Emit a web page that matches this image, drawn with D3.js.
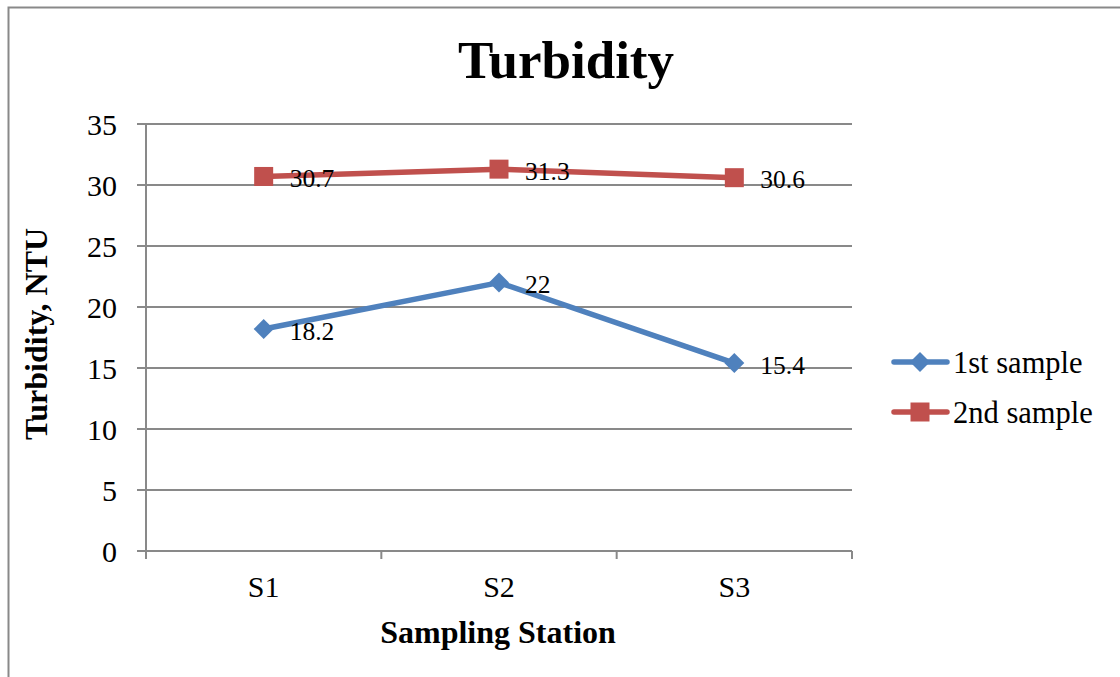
<!DOCTYPE html>
<html>
<head>
<meta charset="utf-8">
<script src="https://cdn.jsdelivr.net/npm/d3@7"></script>
<style>
  html, body { margin: 0; padding: 0; background: #fff; }
  svg { display: block; }
</style>
</head>
<body>
<svg id="chart" width="1120" height="677" font-family="'Liberation Serif', 'Times New Roman', Times, serif"></svg>
<script>
// Turbidity readings (NTU) at each sampling station
const stations = ["S1", "S2", "S3"];
const firstSample = [18.2, 22, 15.4];
const secondSample = [30.7, 31.3, 30.6];
const seriesNames = ["1st sample", "2nd sample"];
const yTicks = [0, 5, 10, 15, 20, 25, 30, 35];

const svg = d3.select("#chart");
const W = 1120, H = 677;
const plot = { left: 146, right: 852, top: 124, bottom: 551 };
const gridColor = "#898989";
const blue = "#4F81BD", red = "#C0504D";
const serif = "'Liberation Serif', 'Times New Roman', Times, serif";

// outer frame (left and top edges visible)
svg.append("path")
  .attr("d", `M8.5,${H} L8.5,7.5 L${W},7.5`)
  .attr("fill", "none").attr("stroke", gridColor).attr("stroke-width", 2);

const x = d3.scaleBand().domain(stations).range([plot.left, plot.right]);
const y = d3.scaleLinear().domain([0, 35]).range([plot.bottom, plot.top]);

// horizontal gridlines + y ticks
const yAxis = svg.append("g");
yAxis.selectAll("line.grid").data(yTicks).join("line")
  .attr("x1", plot.left - 9).attr("x2", plot.right)
  .attr("y1", d => y(d)).attr("y2", d => y(d))
  .attr("stroke", gridColor).attr("stroke-width", 2);
yAxis.selectAll("text").data(yTicks).join("text")
  .attr("x", 117).attr("y", d => y(d))
  .attr("dy", "0.36em")
  .attr("text-anchor", "end")
  .attr("font-family", serif)
  .attr("font-size", 30)
  .text(d => d);

// vertical axis line
svg.append("line")
  .attr("x1", plot.left).attr("x2", plot.left)
  .attr("y1", plot.top).attr("y2", plot.bottom + 8)
  .attr("stroke", gridColor).attr("stroke-width", 2);

// x tick marks at category boundaries
const boundaries = stations.map(s => x(s)).concat([x(stations[stations.length - 1]) + x.bandwidth()]);
svg.selectAll("line.xtick").data(boundaries.slice(1)).join("line")
  .attr("x1", d => d).attr("x2", d => d)
  .attr("y1", plot.bottom).attr("y2", plot.bottom + 8)
  .attr("stroke", gridColor).attr("stroke-width", 2);

// category labels
svg.selectAll("text.xlab").data(stations).join("text")
  .attr("x", d => x(d) + x.bandwidth() / 2)
  .attr("y", 597)
  .attr("text-anchor", "middle")
  .attr("font-family", serif)
  .attr("font-size", 30)
  .text(d => d);

// titles
svg.append("text")
  .attr("x", 566).attr("y", 78)
  .attr("text-anchor", "middle")
  .attr("font-family", serif)
  .attr("font-size", 53).attr("font-weight", "bold")
  .text("Turbidity");

svg.append("text")
  .attr("x", 498).attr("y", 643)
  .attr("text-anchor", "middle")
  .attr("font-family", serif)
  .attr("font-size", 32).attr("font-weight", "bold")
  .text("Sampling Station");

svg.append("text")
  .attr("transform", "translate(47,334) rotate(-90)")
  .attr("text-anchor", "middle")
  .attr("font-family", serif)
  .attr("font-size", 32).attr("font-weight", "bold")
  .text("Turbidity, NTU");

const cx = d => x(d) + x.bandwidth() / 2;
const line = d3.line().x((d, i) => cx(stations[i])).y(d => y(d));

const diamond = s => `M0,${-s} L${s},0 L0,${s} L${-s},0 Z`;
const square = s => `M${-s},${-s} H${s} V${s} H${-s} Z`;

const series = [
  { name: seriesNames[0], values: firstSample, color: blue, marker: diamond(10) },
  { name: seriesNames[1], values: secondSample, color: red, marker: square(9.5) }
];

series.forEach(s => {
  svg.append("path")
    .attr("d", line(s.values))
    .attr("fill", "none").attr("stroke", s.color)
    .attr("stroke-width", 5.5).attr("stroke-linejoin", "round");
  svg.selectAll(null).data(s.values).join("path")
    .attr("transform", (d, i) => `translate(${cx(stations[i])},${y(d)})`)
    .attr("d", s.marker).attr("fill", s.color);
  svg.selectAll(null).data(s.values).join("text")
    .attr("x", (d, i) => cx(stations[i]) + 26)
    .attr("y", d => y(d) + 1.5)
    .attr("dy", "0.36em")
    .attr("font-family", serif)
    .attr("font-size", 25.5)
    .text(d => d);
});

// legend
const legend = svg.append("g");
series.forEach((s, i) => {
  const ly = 362 + i * 50;
  legend.append("line")
    .attr("x1", 894).attr("x2", 947).attr("y1", ly).attr("y2", ly)
    .attr("stroke", s.color).attr("stroke-width", 5.5).attr("stroke-linecap", "round");
  legend.append("path")
    .attr("transform", `translate(920,${ly})`)
    .attr("d", s.marker).attr("fill", s.color);
  legend.append("text")
    .attr("x", 953).attr("y", ly)
    .attr("dy", "0.36em")
    .attr("font-family", serif)
    .attr("font-size", 30.5)
    .text(s.name);
});
</script>
</body>
</html>
